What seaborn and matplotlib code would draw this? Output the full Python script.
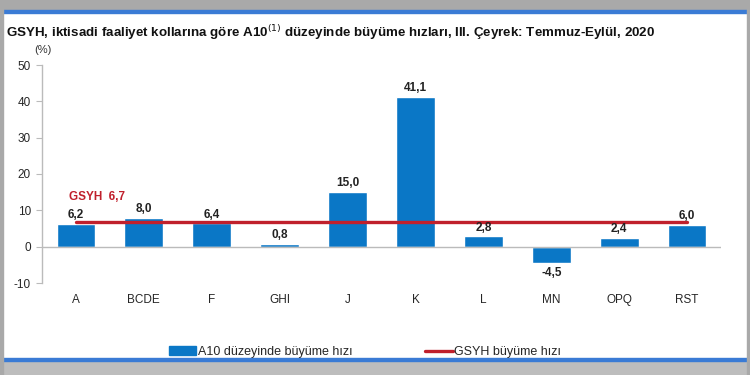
import matplotlib
matplotlib.use("Agg")
import matplotlib.pyplot as plt
import seaborn as sns
import pandas as pd
from matplotlib.patches import Rectangle
from matplotlib.lines import Line2D

categories = ["A", "BCDE", "F", "GHI", "J", "K", "L", "MN", "OPQ", "RST"]
values = [6.2, 8.0, 6.4, 0.8, 15.0, 41.1, 2.8, -4.5, 2.4, 6.0]
gdp_growth = 6.7
value_labels = ["6,2", "8,0", "6,4", "0,8", "15,0", "41,1", "2,8", "-4,5", "2,4", "6,0"]
yticks = [-10, 0, 10, 20, 30, 40, 50]

title = "GSYH, iktisadi faaliyet kollarına göre A10$^{(1)}$ düzeyinde büyüme hızları, III. Çeyrek: Temmuz-Eylül, 2020"
legend_bar = "A10 düzeyinde büyüme hızı"
legend_line = "GSYH büyüme hızı"

sns.set_style("white")
plt.rcParams['font.family'] = ['Liberation Sans', 'DejaVu Sans']
plt.rcParams['axes.unicode_minus'] = False

BLUE = "#0A77C6"
RED = "#C0202C"

fig = plt.figure(figsize=(7.5, 3.75), dpi=100)
fig.patch.set_facecolor("white")

# screenshot frame
W, H = 750, 375
def px_rect(x, y, w, h, color):
    fig.patches.append(Rectangle((x / W, 1 - (y + h) / H), w / W, h / H,
                                 transform=fig.transFigure, color=color, zorder=0))
px_rect(0, 0, 750, 10, "#A9A9A9")
px_rect(0, 10, 750, 3, "#3A7BD5")
px_rect(0, 361, 750, 14, "#BDBDBD")
px_rect(0, 358, 750, 3, "#3A7BD5")
px_rect(0, 0, 3, 375, "#A9A9A9")
px_rect(747, 0, 3, 375, "#A9A9A9")

ax = fig.add_axes([42 / W, 1 - 283 / H, (721 - 42) / W, (283 - 65) / H])
df = pd.DataFrame({"cat": categories, "val": values})
sns.barplot(data=df, x="cat", y="val", color=BLUE, saturation=1, width=0.57, ax=ax)

ax.set_xlim(-0.5, len(categories) - 0.5)
ax.set_ylim(-10, 50)
ax.set_yticks(yticks)
ax.set_xlabel("")
ax.set_ylabel("")
for s in ["top", "right", "bottom"]:
    ax.spines[s].set_visible(False)
ax.spines["left"].set_color("#BBBBBB")
ax.spines["left"].set_linewidth(1.0)
ax.tick_params(axis="y", length=4, color="#BBBBBB", labelsize=8.5, pad=4, direction="out", left=True)
ax.tick_params(axis="x", length=0, labelsize=8.5, pad=8)
ax.axhline(0, color="#BBBBBB", lw=1.0, zorder=1)

# GDP line from first to last category center
ax.plot([0, len(categories) - 1], [gdp_growth, gdp_growth], color=RED, lw=2.4, zorder=3)
ax.text(-0.1, gdp_growth + 5.2, "GSYH  " + f"{gdp_growth}".replace(".", ","),
        color=RED, fontsize=8.5, fontweight="bold", ha="left", va="bottom")

for i, (v, lab) in enumerate(zip(values, value_labels)):
    if v >= 0:
        ax.text(i, v + 0.8, lab, ha="center", va="bottom", fontsize=8.5, fontweight="bold", color="#222222")
    else:
        ax.text(i, v - 1.2, lab, ha="center", va="top", fontsize=8.5, fontweight="bold", color="#222222")

fig.text(6 / W, 1 - 33 / H, title, fontsize=9.6, fontweight="bold", ha="left", va="center", color="#111111")
fig.text(34 / W, 1 - 50 / H, "(%)", fontsize=8, ha="left", va="center", color="#333333")

handles = [Rectangle((0, 0), 1, 1, color=BLUE), Line2D([0], [0], color=RED, lw=2.4)]
fig.legend(handles, [legend_bar, legend_line], loc="center", bbox_to_anchor=(365 / W, 1 - 352 / H),
           ncol=2, frameon=False, fontsize=9, columnspacing=5.8, handlelength=2.2,
           handletextpad=0.15, handleheight=0.7)

fig.savefig("out.png", dpi=100)
